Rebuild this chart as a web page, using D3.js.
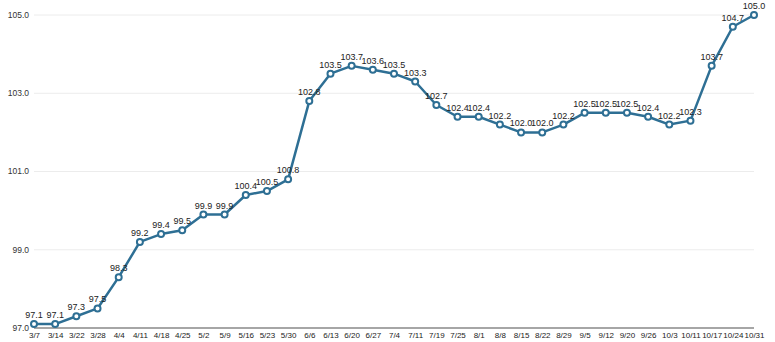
<!DOCTYPE html>
<html><head><meta charset="utf-8">
<script src="https://cdn.jsdelivr.net/npm/d3@7"></script>
<style>body{margin:0;background:#fff}svg{display:block}</style>
</head><body>
<svg id="c" width="775" height="342"></svg>
<script>
const categories = ["3/7","3/14","3/22","3/28","4/4","4/11","4/18","4/25","5/2","5/9","5/16","5/23","5/30","6/6","6/13","6/20","6/27","7/4","7/11","7/19","7/25","8/1","8/8","8/15","8/22","8/29","9/5","9/12","9/20","9/26","10/3","10/11","10/17","10/24","10/31"];
const values = [97.1,97.1,97.3,97.5,98.3,99.2,99.4,99.5,99.9,99.9,100.4,100.5,100.8,102.8,103.5,103.7,103.6,103.5,103.3,102.7,102.4,102.4,102.2,102.0,102.0,102.2,102.5,102.5,102.5,102.4,102.2,102.3,103.7,104.7,105.0];
const yTicks = [97.0,99.0,101.0,103.0,105.0];

const color = "#2e6f94";
const font = "'Liberation Sans', Arial, sans-serif";
const svg = d3.select("#c");
const x = d3.scalePoint().domain(categories).range([34, 754]);
const y = d3.scaleLinear().domain([97, 105]).range([328, 15]);

// gridlines
svg.append("g").selectAll("line").data(yTicks.slice(1)).join("line")
  .attr("x1", 34).attr("x2", 754)
  .attr("y1", d => y(d)).attr("y2", d => y(d))
  .attr("stroke", "#ececec").attr("stroke-width", 1);

// y axis labels
svg.append("g").selectAll("text").data(yTicks).join("text")
  .attr("x", 29).attr("y", d => y(d)).attr("dy", "0.35em")
  .attr("text-anchor", "end").attr("font-family", font).attr("font-size", 8.5)
  .attr("fill", "#333").text(d => d.toFixed(1));

// x axis
const xAxis = d3.axisBottom(x).tickSize(0).tickPadding(4);
const gx = svg.append("g").attr("transform", `translate(0,${y(97)})`).call(xAxis);
gx.select(".domain").attr("stroke", "#888").attr("stroke-width", 1.5).attr("d", "M34,0H754");
gx.selectAll("text").attr("font-family", font).attr("font-size", 8).attr("fill", "#222");

// line
svg.append("path").datum(values)
  .attr("fill", "none").attr("stroke", color).attr("stroke-width", 2.5)
  .attr("stroke-linejoin", "round")
  .attr("d", d3.line().x((d, i) => x(categories[i])).y(d => y(d)));

// points
svg.append("g").selectAll("circle").data(values).join("circle")
  .attr("cx", (d, i) => x(categories[i])).attr("cy", d => y(d))
  .attr("r", 3).attr("fill", "#fff").attr("stroke", color).attr("stroke-width", 2);

// value labels
svg.append("g").selectAll("text").data(values).join("text")
  .attr("x", (d, i) => x(categories[i])).attr("y", d => y(d) - 6)
  .attr("text-anchor", "middle").attr("font-family", font).attr("font-size", 9)
  .attr("fill", "#222").text(d => d.toFixed(1));
</script>
</body></html>
